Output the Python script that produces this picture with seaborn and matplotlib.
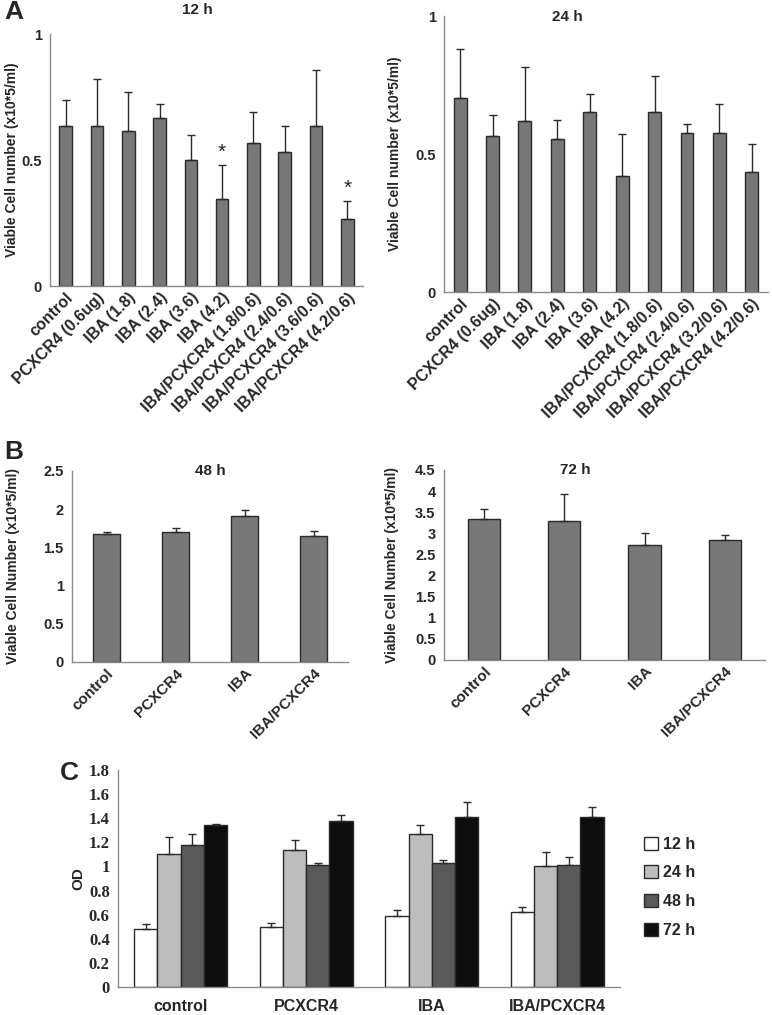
import matplotlib
matplotlib.use('Agg')
import matplotlib.pyplot as plt
import numpy as np
import pandas as pd
import seaborn as sns

# Panel A: viable cell number at 12 h / 24 h
a12_labels = ['control', 'PCXCR4 (0.6ug)', 'IBA (1.8)', 'IBA (2.4)', 'IBA (3.6)', 'IBA (4.2)',
              'IBA/PCXCR4 (1.8/0.6)', 'IBA/PCXCR4 (2.4/0.6)', 'IBA/PCXCR4 (3.6/0.6)',
              'IBA/PCXCR4 (4.2/0.6)']
a12_mean = [0.635, 0.635, 0.616, 0.668, 0.50, 0.347, 0.566, 0.533, 0.635, 0.265]
a12_err = [0.103, 0.185, 0.154, 0.054, 0.098, 0.134, 0.124, 0.102, 0.222, 0.074]
a12_star = [5, 9]

a24_labels = ['control', 'PCXCR4 (0.6ug)', 'IBA (1.8)', 'IBA (2.4)', 'IBA (3.6)', 'IBA (4.2)',
              'IBA/PCXCR4 (1.8/0.6)', 'IBA/PCXCR4 (2.4/0.6)', 'IBA/PCXCR4 (3.2/0.6)',
              'IBA/PCXCR4 (4.2/0.6)']
a24_mean = [0.703, 0.567, 0.618, 0.555, 0.652, 0.42, 0.652, 0.577, 0.577, 0.435]
a24_err = [0.178, 0.076, 0.199, 0.068, 0.067, 0.152, 0.130, 0.032, 0.103, 0.103]

# Panel B: 48 h / 72 h
b_labels = ['control', 'PCXCR4', 'IBA', 'IBA/PCXCR4']
b48_mean = [1.67, 1.70, 1.91, 1.65]
b48_err = [0.03, 0.05, 0.08, 0.06]
b72_mean = [3.35, 3.30, 2.72, 2.83]
b72_err = [0.22, 0.63, 0.28, 0.12]

# Panel C: OD over time
c_groups = ['control', 'PCXCR4', 'IBA', 'IBA/PCXCR4']
c_times = ['12 h', '24 h', '48 h', '72 h']
od_12 = [0.485, 0.50, 0.59, 0.62]
od_24 = [1.10, 1.135, 1.27, 1.00]
od_48 = [1.175, 1.01, 1.025, 1.01]
od_72 = [1.34, 1.38, 1.41, 1.41]
err_12 = [0.035, 0.03, 0.05, 0.04]
err_24 = [0.14, 0.085, 0.07, 0.12]
err_48 = [0.095, 0.02, 0.03, 0.07]
err_72 = [0.01, 0.05, 0.125, 0.085]

BAR = '#787878'
EDGE = '#2a2a2a'
SPINE = '#8a8a8a'
NARROW = ['Liberation Sans Narrow', 'Liberation Sans', 'DejaVu Sans']

sns.set_style('white')
plt.rcParams['font.family'] = ['Liberation Sans', 'DejaVu Sans']
plt.rcParams['font.weight'] = 'bold'


def style_axes(ax, n, ylim, yticks, tick_size=10.5):
    ax.set_xlim(-0.5, n - 0.5)
    ax.set_ylim(*ylim)
    ax.set_yticks(yticks)
    ax.set_yticklabels([f'{v:g}' for v in yticks], fontsize=tick_size, fontweight='bold')
    for s in ['top', 'right']:
        ax.spines[s].set_visible(False)
    for s in ['left', 'bottom']:
        ax.spines[s].set_color(SPINE)
        ax.spines[s].set_linewidth(1)
    ax.set_xticks(np.arange(n + 1) - 0.5, minor=True)
    ax.tick_params(axis='x', which='major', length=0, pad=3)
    ax.tick_params(axis='x', which='minor', length=4, color=SPINE, direction='out')
    ax.tick_params(axis='y', length=4, color=SPINE, direction='out', pad=2)
    ax.set_xlabel('')


def bar_panel(ax, labels, mean, err, ylim, yticks, title, title_xy, ylabel, ylabel_x,
              label_size):
    n = len(labels)
    sns.barplot(x=labels, y=mean, ax=ax, color=BAR, saturation=1, width=0.4,
                edgecolor=EDGE, linewidth=1)
    ax.errorbar(np.arange(n), mean, yerr=[np.zeros(n), err], fmt='none',
                ecolor=EDGE, elinewidth=1, capsize=3, capthick=1)
    style_axes(ax, n, ylim, yticks)
    ax.set_xticks(np.arange(n))
    ax.set_xticklabels(labels, rotation=45, ha='right', rotation_mode='anchor',
                       fontsize=label_size, fontweight='bold')
    ax.text(title_xy[0], title_xy[1], title, transform=ax.transAxes, ha='center',
            va='center', fontsize=11, fontweight='bold')
    ax.set_ylabel(ylabel, fontsize=10, fontweight='bold')
    ax.yaxis.set_label_coords(ylabel_x, 0.5)


fig = plt.figure(figsize=(7.72, 10.15), dpi=100)

ax1 = fig.add_axes([0.0648, 0.7182, 0.4054, 0.2483])
bar_panel(ax1, a12_labels, a12_mean, a12_err, (0, 1), [0, 0.5, 1], '12 h', (0.47, 1.095),
          'Viable Cell number (x10*5/ml)', -0.099, 11.5)
for i in a12_star:
    ax1.text(i, a12_mean[i] + a12_err[i] + 0.01, '*', ha='center', va='bottom',
             fontsize=15, fontweight='normal')

ax2 = fig.add_axes([0.5751, 0.7123, 0.4197, 0.2719])
bar_panel(ax2, a24_labels, a24_mean, a24_err, (0, 1), [0, 0.5, 1], '24 h', (0.38, 0.995),
          'Viable Cell number (x10*5/ml)', -0.13, 11.5)

ax3 = fig.add_axes([0.0933, 0.3478, 0.3575, 0.1882])
bar_panel(ax3, b_labels, b48_mean, b48_err, (0, 2.5), [0, 0.5, 1, 1.5, 2, 2.5], '48 h',
          (0.5, 1.0), 'Viable Cell Number (x10*5/ml)', -0.19, 11)

ax4 = fig.add_axes([0.575, 0.3498, 0.4158, 0.1872])
bar_panel(ax4, b_labels, b72_mean, b72_err, (0, 4.5),
          [0, 0.5, 1, 1.5, 2, 2.5, 3, 3.5, 4, 4.5], '72 h', (0.41, 1.0),
          'Viable Cell Number (x10*5/ml)', -0.14, 11)

# Panel C grouped bars
df = pd.DataFrame({
    'group': c_groups * len(c_times),
    'time': np.repeat(c_times, len(c_groups)),
    'od': np.concatenate([od_12, od_24, od_48, od_72]),
})
c_errs = [err_12, err_24, err_48, err_72]
c_colors = ['#ffffff', '#bdbdbd', '#595959', '#0d0d0d']
c_ticks = [0, 0.2, 0.4, 0.6, 0.8, 1, 1.2, 1.4, 1.6, 1.8]

ax5 = fig.add_axes([0.1528, 0.0276, 0.6503, 0.2138])
sns.barplot(data=df, x='group', y='od', hue='time', palette=c_colors, saturation=1,
            width=0.74, edgecolor=EDGE, linewidth=1, ax=ax5)
for cont, errs in zip(ax5.containers, c_errs):
    xs = [p.get_x() + p.get_width() / 2 for p in cont]
    ys = [p.get_height() for p in cont]
    ax5.errorbar(xs, ys, yerr=[np.zeros(len(errs)), errs], fmt='none', ecolor=EDGE,
                 elinewidth=1, capsize=3, capthick=1)
style_axes(ax5, 4, (0, 1.8), c_ticks)
ax5.set_yticklabels([f'{v:g}' for v in c_ticks], fontsize=12, fontweight='bold',
                    family=['Liberation Serif', 'DejaVu Serif'])
ax5.set_xticks(np.arange(4))
ax5.set_xticklabels(c_groups, fontsize=11.5, fontweight='bold', family=NARROW)
ax5.tick_params(axis='x', which='major', pad=9)
ax5.set_ylabel('OD', fontsize=11, fontweight='bold')
ax5.yaxis.set_label_coords(-0.064, 0.5)
handles, labels = ax5.get_legend_handles_labels()
ax5.legend(handles, labels, loc='upper left', bbox_to_anchor=(0.815, 0.19),
           bbox_transform=fig.transFigure, frameon=False, handlelength=0.9,
           handleheight=0.9, handletextpad=0.3, labelspacing=0.85,
           prop={'family': NARROW, 'weight': 'bold', 'size': 11.5})

# panel letters
fig.text(0.005, 0.988, 'A', fontsize=19, fontweight='bold', va='center')
fig.text(0.005, 0.555, 'B', fontsize=19, fontweight='bold', va='center')
fig.text(0.078, 0.238, 'C', fontsize=19, fontweight='bold', va='center')

fig.savefig('out.png', dpi=100)
